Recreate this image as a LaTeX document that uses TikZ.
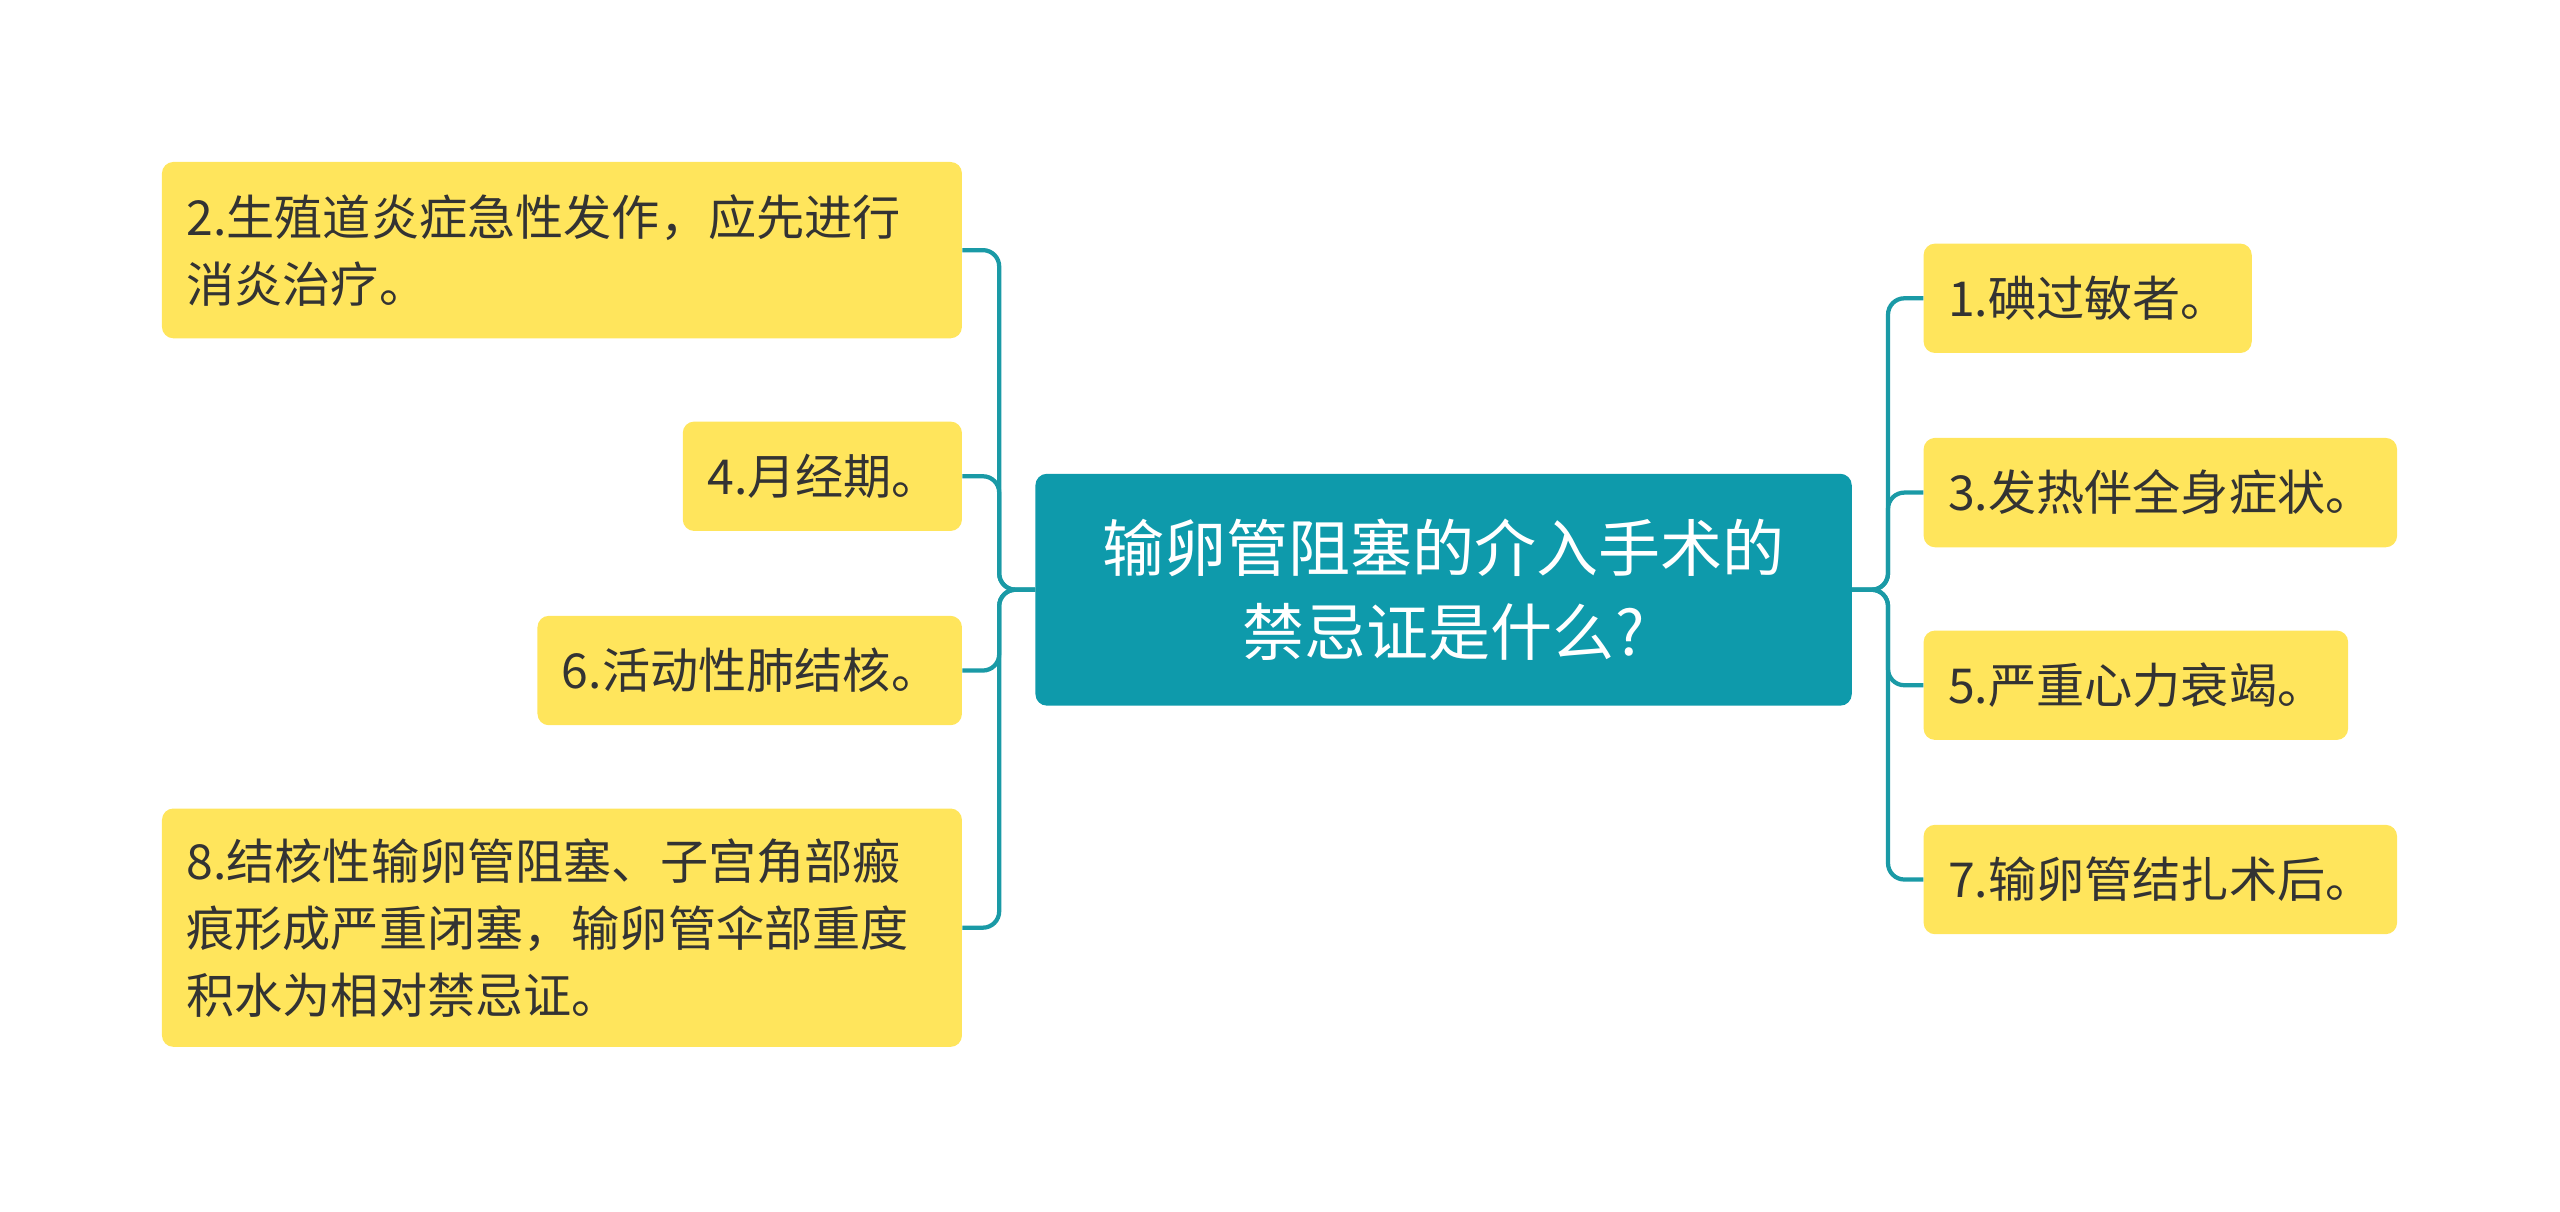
\documentclass[tikz,border=0pt]{standalone}
\usepackage{fontspec}
\setmainfont{Noto Sans CJK SC}
\begin{document}
\begin{tikzpicture}[x=1pt,y=-1pt,
  leaf/.style 2 args={fill=yellowc,rounded corners=7pt,text=textc,font=\fontsize{29.5}{41}\selectfont,align=left,inner xsep=15pt,inner ysep=0pt,anchor=north west,minimum width=#1pt,text width=#1pt-30pt,minimum height=#2pt},
  link/.style={draw=linec,line width=2.6pt,rounded corners=10pt}]
\definecolor{yellowc}{HTML}{FFE55C}
\definecolor{textc}{HTML}{333333}
\definecolor{tealc}{HTML}{0E9AAB}
\definecolor{linec}{HTML}{1A9AA6}
\useasboundingbox (0,0) rectangle (1568,742);
\node[fill=tealc,rounded corners=7pt,text=white,font=\fontsize{38}{52}\selectfont,align=center,minimum width=500pt,minimum height=142pt,anchor=north west] (c) at (634,290) {输卵管阻塞的介入手术的\\禁忌证是什么?};
\node[leaf={490}{108}] (n2) at (99,99) {2.生殖道炎症急性发作，应先进行\\消炎治疗。};
\node[leaf={171}{67}] (n4) at (418,258) {4.月经期。};
\node[leaf={260}{67}] (n6) at (329,377) {6.活动性肺结核。};
\node[leaf={490}{146}] (n8) at (99,495) {8.结核性输卵管阻塞、子宫角部瘢\\痕形成严重闭塞，输卵管伞部重度\\积水为相对禁忌证。};
\node[leaf={201}{67}] (n1) at (1178,149) {1.碘过敏者。};
\node[leaf={290}{67}] (n3) at (1178,268) {3.发热伴全身症状。};
\node[leaf={260}{67}] (n5) at (1178,386) {5.严重心力衰竭。};
\node[leaf={290}{67}] (n7) at (1178,505) {7.输卵管结扎术后。};
\foreach \n in {n2,n4,n6,n8} \draw[link] (c.west) -- ++(-22,0) |- (\n.east);
\foreach \n in {n1,n3,n5,n7} \draw[link] (c.east) -- ++(22,0) |- (\n.west);
\end{tikzpicture}
\end{document}
